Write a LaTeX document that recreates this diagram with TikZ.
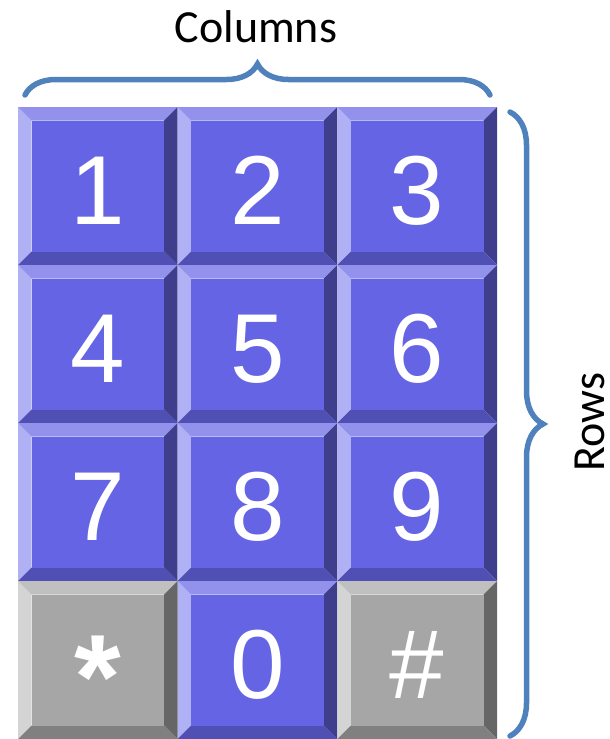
\documentclass[tikz,border=0pt]{standalone}
\usepackage{fontspec}
\setmainfont{Liberation Sans}
\newfontfamily\calibrifont{Carlito}
\usepackage{tikz}
\usetikzlibrary{decorations.pathreplacing,calc}
\definecolor{bluekface}{RGB}{100,100,228}
\definecolor{bluektop}{RGB}{146,146,236}
\definecolor{bluekleft}{RGB}{176,176,244}
\definecolor{bluekright}{RGB}{62,62,140}
\definecolor{bluekbottom}{RGB}{80,80,180}
\definecolor{graykface}{RGB}{166,166,166}
\definecolor{grayktop}{RGB}{192,192,192}
\definecolor{graykleft}{RGB}{212,212,212}
\definecolor{graykright}{RGB}{102,102,102}
\definecolor{graykbottom}{RGB}{128,128,128}
\definecolor{bracecol}{RGB}{79,129,189}
\tikzset{
  keylabel/.style={anchor=base, inner sep=0pt, text=white,
                   font=\fontsize{98}{98}\selectfont},
  starlabel/.style={anchor=base, inner sep=0pt, text=white,
                    font=\fontsize{120}{120}\selectfont\bfseries},
  bracestyle/.style={draw=bracecol, line width=5.5pt, line cap=round,
                     decorate, decoration={brace, amplitude=#1}},
  bracelabel/.style={anchor=base, inner sep=0pt,
                     font=\calibrifont\fontsize{46}{46}\selectfont},
}
\def\kw{159.67}
\def\kh{158}
\def\bev{13.5}
% one key: name, left, top, label, colour set, label style
\newcommand{\keycap}[6]{%
  \begin{scope}[shift={(#2,#3)}]
    \fill[#5kleft]   (0,0) -- (\bev,\bev) -- (\bev,\kh-\bev) -- (0,\kh) -- cycle;
    \fill[#5ktop]    (0,0) -- (\kw,0) -- (\kw-\bev,\bev) -- (\bev,\bev) -- cycle;
    \fill[#5kright]  (\kw,0) -- (\kw,\kh) -- (\kw-\bev,\kh-\bev) -- (\kw-\bev,\bev) -- cycle;
    \fill[#5kbottom] (0,\kh) -- (\kw,\kh) -- (\kw-\bev,\kh-\bev) -- (\bev,\kh-\bev) -- cycle;
    \fill[#5kface]   (\bev,\bev) rectangle (\kw-\bev,\kh-\bev);
    \node[#6] (#1) at (\kw/2,117) {#4};
  \end{scope}}
\begin{document}
\begin{tikzpicture}[x=1pt, y=-1pt]
  \useasboundingbox (0,0) rectangle (610,739);
  % digit keys
  \foreach \lab/\col/\row in {1/0/0, 2/1/0, 3/2/0, 4/0/1, 5/1/1, 6/2/1,
                              7/0/2, 8/1/2, 9/2/2, 0/1/3}
    \keycap{k\lab}{18+\col*\kw}{107+\row*\kh}{\lab}{blue}{keylabel};
  % symbol keys
  \keycap{kstar}{18}{581}{*}{gray}{starlabel, yshift=-20pt}
  \keycap{khash}{18+2*\kw}{581}{\#}{gray}{keylabel}
  % braces
  \coordinate (colL) at (25,95);
  \coordinate (colR) at (490,95);
  \coordinate (rowT) at (510,112);
  \coordinate (rowB) at (510,736);
  \draw[bracestyle=31] (colL) -- (colR);
  \draw[bracestyle=33] (rowT) -- (rowB);
  \node[bracelabel] (columns) at (256,42) {Columns};
  \node[bracelabel, rotate=90] (rows) at (604,422) {Rows};
\end{tikzpicture}
\end{document}
